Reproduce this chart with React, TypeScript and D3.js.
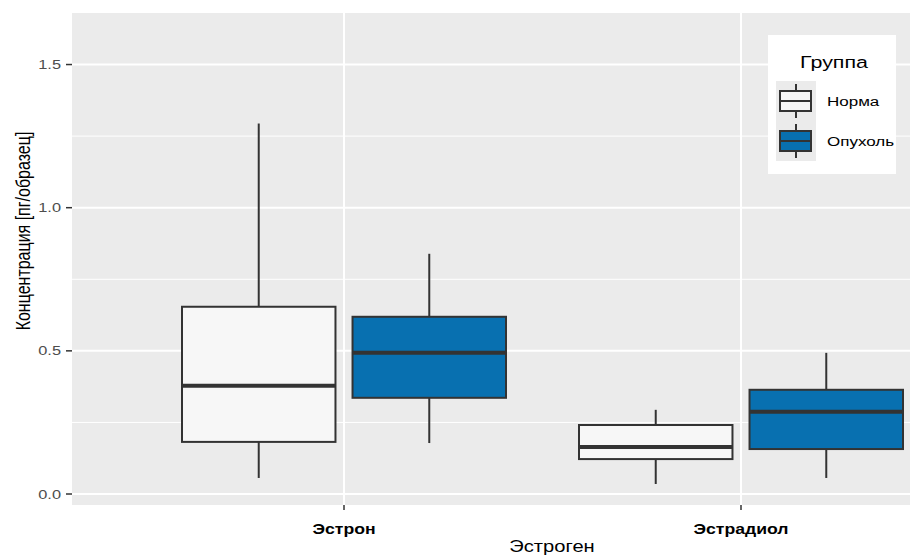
import React from "react"
import * as d3 from "d3"

const categories = ["Эстрон", "Эстрадиол"]
const groups = ["Норма", "Опухоль"]
const groupColors = ["#F7F7F7", "#0870B0"]

// [min, q1, median, q3, max] per category, for each group
const normaStats = [
  [0.056, 0.182, 0.378, 0.654, 1.294],
  [0.035, 0.122, 0.164, 0.241, 0.294],
]
const opuholStats = [
  [0.178, 0.336, 0.493, 0.619, 0.839],
  [0.056, 0.157, 0.287, 0.364, 0.493],
]
const yTicks = [0, 0.5, 1, 1.5]
const yMinor = [0.25, 0.75, 1.25]

const W = 910
const H = 557
const panel = { left: 72, right: 910, top: 13, bottom: 505 }
// text in the picture is a bit wider than it is tall
const SX = 1.26

const T = (props: {
  x: number
  y: number
  size: number
  anchor?: string
  bold?: boolean
  fill?: string
  rotate?: boolean
  children: React.ReactNode
}) => (
  <text
    transform={`translate(${props.x},${props.y}) scale(${SX},1)${props.rotate ? " rotate(-90)" : ""}`}
    textAnchor={props.anchor || "start"}
    fontSize={props.size}
    fontWeight={props.bold ? "bold" : "normal"}
    fill={props.fill || "#000"}
  >
    {props.children}
  </text>
)

const App = () => {
  const y = d3.scaleLinear().domain([-0.0384, 1.68]).range([panel.bottom, panel.top])
  const x = d3.scaleBand().domain(categories).range([145.5, 939.5]).padding(0)
  const xg = d3.scaleBand().domain(groups).range([0, 324]).paddingInner(0.1)
  const font = "'Liberation Sans', Arial, sans-serif"

  const boxes = [normaStats, opuholStats].flatMap((stats, gi) =>
    stats.map((s, ci) => ({ cat: categories[ci], group: groups[gi], color: groupColors[gi], s }))
  )

  return (
    <svg width={W} height={H} style={{ position: "absolute", left: 0, top: 0, fontFamily: font }}>
      <rect x={0} y={0} width={W} height={H} fill="#fff" />
      <rect x={panel.left} y={panel.top} width={panel.right - panel.left} height={panel.bottom - panel.top} fill="#EBEBEB" />
      {yMinor.map((t) => (
        <line key={"m" + t} x1={panel.left} x2={panel.right} y1={y(t)} y2={y(t)} stroke="#fff" strokeWidth={1} />
      ))}
      {yTicks.map((t) => (
        <line key={"g" + t} x1={panel.left} x2={panel.right} y1={y(t)} y2={y(t)} stroke="#fff" strokeWidth={2} />
      ))}
      {categories.map((c) => {
        const cx = x(c)! + x.bandwidth() / 2
        return <line key={c} x1={cx} x2={cx} y1={panel.top} y2={panel.bottom} stroke="#fff" strokeWidth={2} />
      })}

      {boxes.map((b) => {
        const left = x(b.cat)! + x.bandwidth() / 2 - 162 + xg(b.group)!
        const bw = xg.bandwidth()
        const cx = left + bw / 2
        const [mn, q1, md, q3, mx] = b.s
        return (
          <g key={b.cat + b.group} stroke="#333333">
            <line x1={cx} x2={cx} y1={y(mx)} y2={y(q3)} strokeWidth={2} />
            <line x1={cx} x2={cx} y1={y(q1)} y2={y(mn)} strokeWidth={2} />
            <rect x={left} y={y(q3)} width={bw} height={y(q1) - y(q3)} fill={b.color} strokeWidth={2} />
            <line x1={left} x2={left + bw} y1={y(md)} y2={y(md)} strokeWidth={4} />
          </g>
        )
      })}

      {/* y axis */}
      {yTicks.map((t) => (
        <g key={"t" + t}>
          <line x1={66} x2={panel.left} y1={y(t)} y2={y(t)} stroke="#333" strokeWidth={1.5} />
          <T x={61} y={y(t) + 4.6} size={13} anchor="end" fill="#4D4D4D">
            {d3.format(".1f")(t)}
          </T>
        </g>
      ))}
      <T x={30} y={231} size={16} anchor="middle" rotate>
        Концентрация [пг/образец]
      </T>

      {/* x axis */}
      {categories.map((c) => {
        const cx = x(c)! + x.bandwidth() / 2
        return (
          <g key={"x" + c}>
            <line x1={cx} x2={cx} y1={panel.bottom} y2={panel.bottom + 5} stroke="#333" strokeWidth={1.5} />
            <T x={cx} y={panel.bottom + 29} size={14} anchor="middle" bold>
              {c}
            </T>
          </g>
        )
      })}
      <T x={552} y={552} size={16} anchor="middle">
        Эстроген
      </T>

      {/* legend */}
      <rect x={768} y={35} width={128} height={139} fill="#fff" />
      <T x={834} y={68} size={17} anchor="middle">
        Группа
      </T>
      {groups.map((g, i) => {
        const ky = 81 + i * 40
        return (
          <g key={"l" + g}>
            <rect x={776} y={ky} width={40} height={40} fill="#EBEBEB" />
            <g stroke="#333">
              <line x1={796} x2={796} y1={ky + 3} y2={ky + 37} strokeWidth={2} />
              <rect x={780} y={ky + 10} width={31} height={20} fill={groupColors[i]} strokeWidth={2} />
              <line x1={780} x2={811} y1={ky + 20} y2={ky + 20} strokeWidth={2} />
            </g>
            <T x={827} y={ky + 25} size={13.5}>
              {g}
            </T>
          </g>
        )
      })}
    </svg>
  )
}

export default App
